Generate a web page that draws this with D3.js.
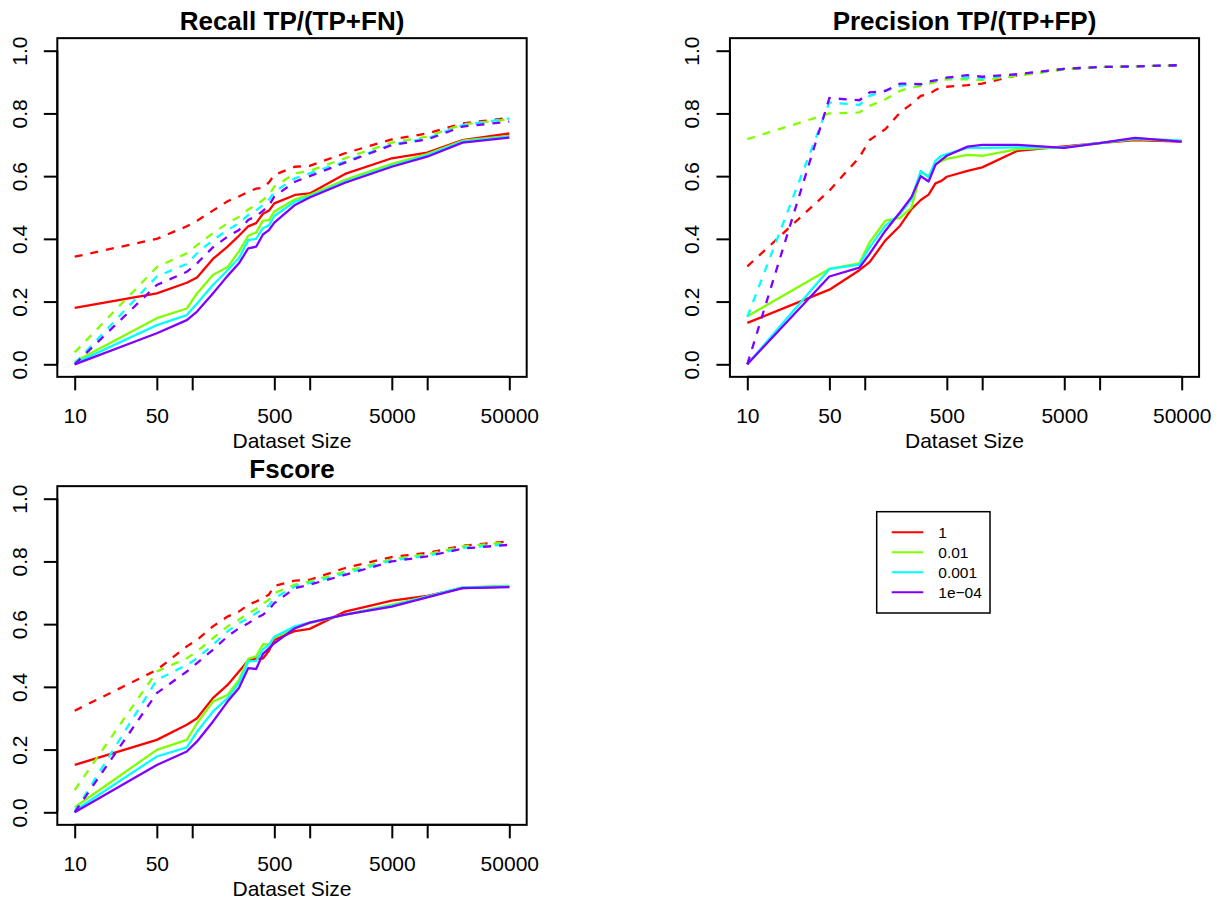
<!DOCTYPE html>
<html>
<head>
<meta charset="utf-8">
<script src="https://cdn.jsdelivr.net/npm/d3@7"></script>
<style>
  body { margin: 0; background: #fff; }
  svg text { font-family: "Liberation Sans", Arial, sans-serif; fill: #000; }
</style>
</head>
<body>
<div id="chart"></div>
<script>
// dataset sizes (x), shared by every panel
const sizes = [10, 50, 90, 110, 150, 200, 250, 300, 350, 400, 450, 500, 750, 1000, 2000, 5000, 10000, 20000, 50000];

const seriesNames = ["1", "0.01", "0.001", "1e\u221204"];
const colors = ["#FF0000", "#80FF00", "#00FFFF", "#8000FF"];

const xTicks = [10, 50, 100, 500, 1000, 5000, 10000, 50000];
const xTickLabels = [10, 50, 500, 5000, 50000];
const yTicks = [0, 0.2, 0.4, 0.6, 0.8, 1.0];

// Recall TP/(TP+FN)
const recallSolid = [
    [0.18, 0.226, 0.26, 0.277, 0.336, 0.375, 0.41, 0.44, 0.45, 0.48, 0.49, 0.513, 0.54, 0.545, 0.607, 0.657, 0.675, 0.715, 0.736],
    [0.008, 0.147, 0.178, 0.226, 0.285, 0.31, 0.36, 0.41, 0.42, 0.458, 0.46, 0.487, 0.526, 0.54, 0.588, 0.639, 0.67, 0.713, 0.728],
    [0.003, 0.125, 0.157, 0.194, 0.253, 0.30, 0.338, 0.396, 0.40, 0.434, 0.443, 0.473, 0.519, 0.535, 0.582, 0.633, 0.666, 0.71, 0.726],
    [0, 0.099, 0.141, 0.168, 0.226, 0.282, 0.322, 0.37, 0.375, 0.414, 0.428, 0.452, 0.508, 0.532, 0.579, 0.63, 0.662, 0.707, 0.723]
];
const recallDashed = [
    [0.343, 0.40, 0.44, 0.458, 0.49, 0.52, 0.535, 0.55, 0.56, 0.563, 0.58, 0.604, 0.63, 0.633, 0.673, 0.717, 0.736, 0.768, 0.786],
    [0.038, 0.31, 0.354, 0.38, 0.418, 0.45, 0.47, 0.494, 0.508, 0.524, 0.54, 0.566, 0.609, 0.617, 0.657, 0.707, 0.726, 0.765, 0.781],
    [0.003, 0.28, 0.32, 0.354, 0.396, 0.428, 0.45, 0.476, 0.49, 0.508, 0.524, 0.55, 0.593, 0.609, 0.646, 0.701, 0.72, 0.763, 0.784],
    [0, 0.253, 0.295, 0.322, 0.373, 0.407, 0.428, 0.46, 0.473, 0.489, 0.506, 0.535, 0.582, 0.60, 0.643, 0.699, 0.717, 0.758, 0.774]
];

// Precision TP/(TP+FP)
const precisionSolid = [
    [0.132, 0.238, 0.30, 0.326, 0.395, 0.442, 0.495, 0.524, 0.541, 0.577, 0.585, 0.598, 0.617, 0.628, 0.681, 0.695, 0.705, 0.715, 0.71],
    [0.153, 0.304, 0.322, 0.389, 0.458, 0.467, 0.50, 0.612, 0.60, 0.64, 0.648, 0.655, 0.668, 0.665, 0.686, 0.692, 0.705, 0.718, 0.712],
    [0.0, 0.304, 0.318, 0.373, 0.442, 0.48, 0.527, 0.617, 0.596, 0.649, 0.665, 0.67, 0.69, 0.69, 0.692, 0.692, 0.705, 0.72, 0.713],
    [0, 0.28, 0.308, 0.352, 0.426, 0.485, 0.533, 0.60, 0.583, 0.636, 0.652, 0.665, 0.694, 0.70, 0.70, 0.69, 0.705, 0.722, 0.71]
];
const precisionDashed = [
    [0.312, 0.554, 0.66, 0.715, 0.75, 0.803, 0.83, 0.856, 0.861, 0.875, 0.883, 0.885, 0.89, 0.895, 0.922, 0.942, 0.948, 0.95, 0.954],
    [0.718, 0.80, 0.803, 0.824, 0.845, 0.872, 0.883, 0.888, 0.895, 0.90, 0.905, 0.909, 0.909, 0.906, 0.92, 0.94, 0.948, 0.95, 0.954],
    [0.151, 0.835, 0.827, 0.856, 0.872, 0.888, 0.893, 0.893, 0.902, 0.905, 0.91, 0.914, 0.914, 0.912, 0.925, 0.942, 0.948, 0.95, 0.954],
    [0, 0.849, 0.842, 0.867, 0.872, 0.895, 0.895, 0.893, 0.902, 0.905, 0.91, 0.914, 0.922, 0.917, 0.925, 0.942, 0.948, 0.95, 0.954]
];

// Fscore
const fscoreSolid = [
    [0.151, 0.231, 0.279, 0.30, 0.364, 0.406, 0.449, 0.484, 0.491, 0.49, 0.515, 0.55, 0.578, 0.585, 0.64, 0.675, 0.69, 0.715, 0.72],
    [0.016, 0.199, 0.231, 0.284, 0.353, 0.374, 0.422, 0.489, 0.497, 0.536, 0.535, 0.557, 0.587, 0.603, 0.63, 0.662, 0.688, 0.717, 0.722],
    [0.005, 0.178, 0.207, 0.257, 0.321, 0.364, 0.412, 0.481, 0.483, 0.52, 0.534, 0.56, 0.593, 0.605, 0.63, 0.659, 0.688, 0.717, 0.72],
    [0, 0.151, 0.194, 0.226, 0.289, 0.353, 0.396, 0.46, 0.457, 0.505, 0.523, 0.539, 0.587, 0.605, 0.63, 0.656, 0.685, 0.715, 0.718]
];
const fscoreDashed = [
    [0.324, 0.454, 0.529, 0.55, 0.593, 0.624, 0.64, 0.662, 0.672, 0.683, 0.694, 0.722, 0.739, 0.741, 0.779, 0.814, 0.827, 0.85, 0.864],
    [0.071, 0.449, 0.491, 0.513, 0.555, 0.593, 0.614, 0.635, 0.648, 0.665, 0.678, 0.699, 0.726, 0.736, 0.768, 0.807, 0.823, 0.848, 0.861],
    [0.002, 0.422, 0.47, 0.491, 0.534, 0.577, 0.603, 0.619, 0.635, 0.648, 0.659, 0.683, 0.72, 0.731, 0.761, 0.803, 0.818, 0.843, 0.855],
    [0, 0.38, 0.449, 0.476, 0.518, 0.561, 0.587, 0.603, 0.619, 0.63, 0.646, 0.667, 0.715, 0.726, 0.757, 0.80, 0.816, 0.841, 0.853]
];

const W = 1223, H = 903;
const LINE_W = 2.3;
const TICK = 13.5;

const svg = d3.select("#chart").append("svg")
    .attr("width", W)
    .attr("height", H);

// x0/x1 = pixel of 10 and 50000, y0/y1 = pixel of 0 and 1
const panels = [
    { title: "Recall TP/(TP+FN)", solid: recallSolid, dashed: recallDashed, x0: 74.7, x1: 509.3, y0: 364.3, y1: 50.7 },
    { title: "Precision TP/(TP+FP)", solid: precisionSolid, dashed: precisionDashed, x0: 747.3, x1: 1181.7, y0: 364.3, y1: 50.7 },
    { title: "Fscore", solid: fscoreSolid, dashed: fscoreDashed, x0: 74.7, x1: 509.3, y0: 812.3, y1: 498.7 }
];

panels.forEach(p => {
    const x = d3.scaleLog().domain([10, 50000]).range([p.x0, p.x1]);
    const y = d3.scaleLinear().domain([0, 1]).range([p.y0, p.y1]);

    // R pads the plot region by 4% on each side
    const padX = (p.x1 - p.x0) * 0.04;
    const padY = (p.y0 - p.y1) * 0.04;
    const left = p.x0 - padX, right = p.x1 + padX;
    const top = p.y1 - padY, bottom = p.y0 + padY;

    const g = svg.append("g");

    const line = d3.line()
        .x((d, i) => x(sizes[i]))
        .y(d => y(d));

    for (let k = 0; k < colors.length; k++) {
        g.append("path")
            .attr("d", line(p.solid[k]))
            .attr("fill", "none")
            .attr("stroke", colors[k])
            .attr("stroke-width", LINE_W)
            .attr("stroke-linejoin", "round");
        g.append("path")
            .attr("d", line(p.dashed[k]))
            .attr("fill", "none")
            .attr("stroke", colors[k])
            .attr("stroke-width", LINE_W)
            .attr("stroke-dasharray", "8,8");
    }

    // box
    g.append("rect")
        .attr("x", left)
        .attr("y", top)
        .attr("width", right - left)
        .attr("height", bottom - top)
        .attr("fill", "none")
        .attr("stroke", "#000")
        .attr("stroke-width", 2);

    // x axis
    const xAxis = d3.axisBottom(x)
        .tickValues(xTicks)
        .tickSize(TICK)
        .tickFormat(d => xTickLabels.includes(d) ? d : "");
    const gx = g.append("g")
        .attr("transform", `translate(0, ${bottom})`)
        .call(xAxis);
    gx.select(".domain")
        .attr("d", `M${x(10)},0H${x(50000)}`)
        .attr("stroke-width", 2);
    gx.selectAll(".tick line").attr("stroke-width", 2);
    gx.selectAll(".tick text")
        .attr("y", 0)
        .attr("dy", 0)
        .attr("transform", `translate(0, ${423 - 376.7})`)
        .style("font-size", "21px")
        .style("font-family", "'Liberation Sans', Arial, sans-serif")
        .attr("fill", "#000");

    // y axis
    const yAxis = d3.axisLeft(y)
        .tickValues(yTicks)
        .tickSize(TICK)
        .tickFormat(d3.format(".1f"));
    const gy = g.append("g")
        .attr("transform", `translate(${left}, 0)`)
        .call(yAxis);
    gy.select(".domain")
        .attr("d", `M0,${y(0)}V${y(1)}`)
        .attr("stroke-width", 2);
    gy.selectAll(".tick line").attr("stroke-width", 2);
    gy.selectAll(".tick text")
        .attr("x", 0)
        .attr("dy", 0)
        .attr("transform", "translate(-30.7, 0) rotate(-90)")
        .attr("text-anchor", "middle")
        .style("font-size", "21px")
        .style("font-family", "'Liberation Sans', Arial, sans-serif")
        .attr("fill", "#000");

    // titles
    g.append("text")
        .attr("x", (left + right) / 2)
        .attr("y", top - 8)
        .attr("text-anchor", "middle")
        .style("font-size", "26px")
        .style("font-weight", "bold")
        .text(p.title);

    g.append("text")
        .attr("x", (left + right) / 2)
        .attr("y", bottom + 71.3)
        .attr("text-anchor", "middle")
        .style("font-size", "21px")
        .text("Dataset Size");
});

// legend (fourth panel)
const legend = { x: 876.7, y: 511.7, w: 113.3, h: 101.3, lineX0: 891.7, lineX1: 923.3, textX: 938.3, firstRow: 532.3, rowGap: 20 };
const lg = svg.append("g");
lg.append("rect")
    .attr("x", legend.x)
    .attr("y", legend.y)
    .attr("width", legend.w)
    .attr("height", legend.h)
    .attr("fill", "none")
    .attr("stroke", "#000")
    .attr("stroke-width", 1.5);

seriesNames.forEach((name, i) => {
    const ry = legend.firstRow + i * legend.rowGap;
    lg.append("line")
        .attr("x1", legend.lineX0)
        .attr("x2", legend.lineX1)
        .attr("y1", ry)
        .attr("y2", ry)
        .attr("stroke", colors[i])
        .attr("stroke-width", 2);
    lg.append("text")
        .attr("x", legend.textX)
        .attr("y", ry + 5.5)
        .style("font-size", "15.5px")
        .text(name);
});
</script>
</body>
</html>
